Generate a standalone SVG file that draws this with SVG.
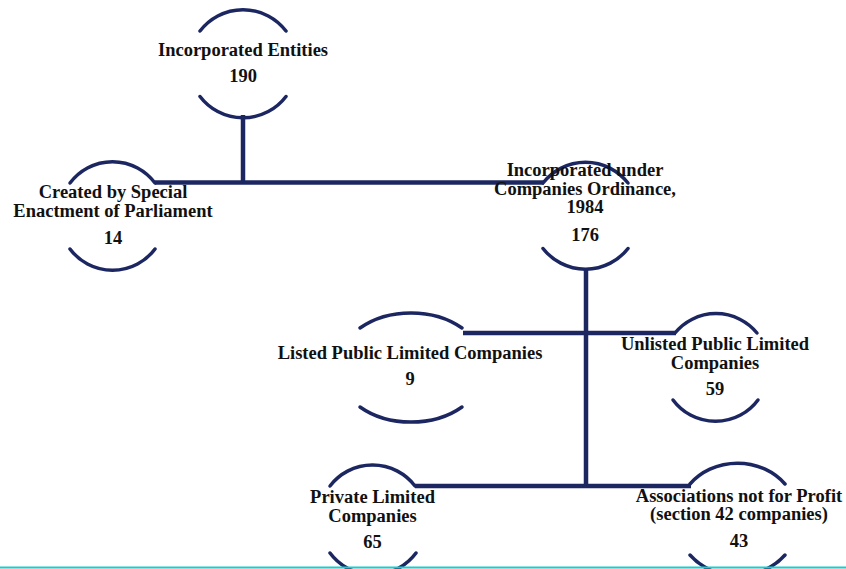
<svg xmlns="http://www.w3.org/2000/svg" width="846" height="569" viewBox="0 0 846 569">
<style>
.arc{fill:none;stroke:#1c2762;stroke-width:3.5;stroke-linecap:round}
.con{fill:none;stroke:#1c2762;stroke-width:4.5}
text{font-family:"Liberation Serif","Times New Roman",serif;font-weight:bold;font-size:18.5px;fill:#111;text-anchor:middle}
</style>
<rect width="846" height="569" fill="#fff"/>
<g id="connectors">
<line class="con" x1="243" y1="115" x2="243" y2="184"/>
<line class="con" x1="155" y1="182.5" x2="544" y2="182.5"/>
<line class="con" x1="586" y1="269" x2="586" y2="488"/>
<line class="con" x1="463" y1="333" x2="676" y2="333"/>
<line class="con" x1="415" y1="486" x2="691" y2="486"/>
</g>
<g id="n-incorporated-entities">
<path class="arc" d="M200,31 A54,54 0 0 1 286,31"/>
<path class="arc" d="M200,96.5 A54,54 0 0 0 286,96.5"/>
<text x="243" y="56">Incorporated Entities</text>
<text x="243" y="82">190</text>
</g>
<g id="n-special-enactment">
<path class="arc" d="M70,183 A53,53 0 0 1 155,183"/>
<path class="arc" d="M70,249 A53,53 0 0 0 155,249"/>
<text x="113" y="198">Created by Special</text>
<text x="113" y="216.5">Enactment of Parliament</text>
<text x="113" y="244">14</text>
</g>
<g id="n-companies-ordinance">
<path class="arc" d="M543,183 A54,54 0 0 1 628,183"/>
<path class="arc" d="M543,248.5 A54,54 0 0 0 628,248.5"/>
<text x="585" y="176">Incorporated under</text>
<text x="585" y="194.5">Companies Ordinance,</text>
<text x="585" y="213">1984</text>
<text x="585" y="240.5">176</text>
</g>
<g id="n-listed">
<path class="arc" d="M360,328 A73,53 0 0 1 462,328"/>
<path class="arc" d="M360,407 A73,53 0 0 0 462,407"/>
<text x="410" y="358.5">Listed Public Limited Companies</text>
<text x="410" y="385">9</text>
</g>
<g id="n-unlisted">
<path class="arc" d="M675,333 A53,53 0 0 1 757,333"/>
<path class="arc" d="M673,400 A53,53 0 0 0 758,400"/>
<text x="715" y="350">Unlisted Public Limited</text>
<text x="715" y="369">Companies</text>
<text x="715" y="395">59</text>
</g>
<g id="n-private">
<path class="arc" d="M330,486 A53.5,53.5 0 0 1 415,486"/>
<path class="arc" d="M330,553 A53.5,53.5 0 0 0 416,553"/>
<text x="372.5" y="503">Private Limited</text>
<text x="372.5" y="521.5">Companies</text>
<text x="372.5" y="547.5">65</text>
</g>
<g id="n-associations">
<path class="arc" d="M690,484 A61,56 0 0 1 785,484"/>
<path class="arc" d="M690,555 A61,56 0 0 0 785,555"/>
<text x="739" y="501.5">Associations not for Profit</text>
<text x="739" y="520">(section 42 companies)</text>
<text x="739" y="546.5">43</text>
</g>
<line x1="0" y1="567.5" x2="846" y2="567.5" stroke="#1ccccc" stroke-width="2"/>
</svg>
